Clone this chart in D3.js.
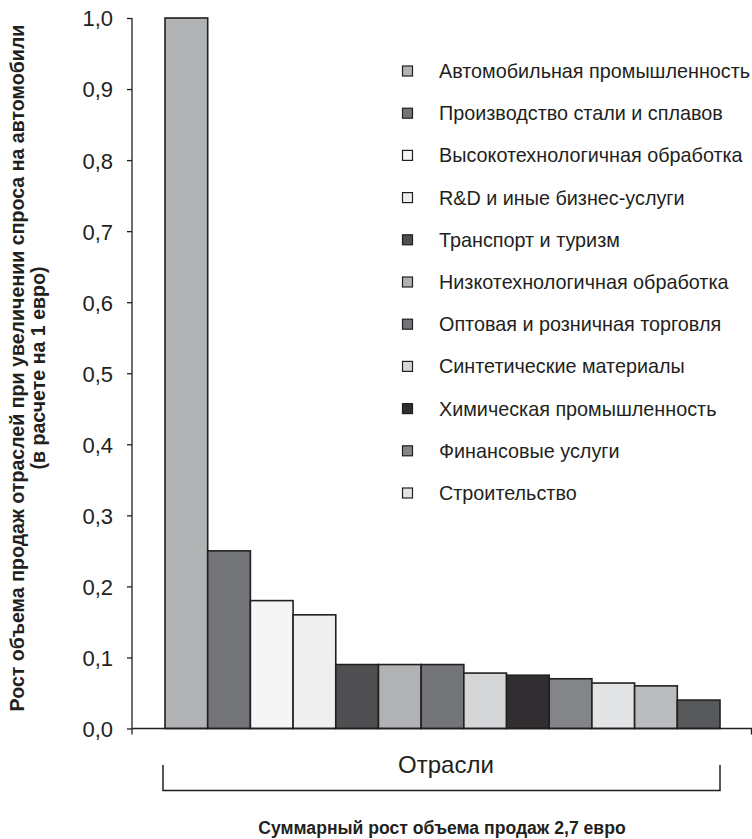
<!DOCTYPE html>
<html>
<head>
<meta charset="utf-8">
<script src="https://cdn.jsdelivr.net/npm/d3@7"></script>
<style>
  html, body { margin: 0; padding: 0; background: #fff; }
  svg { display: block; font-family: "Liberation Sans", Arial, sans-serif; }
</style>
</head>
<body>
<svg id="chart" width="752" height="839"></svg>
<script>
// Industries (legend order = bar order for the first 11 bars)
const categories = [
  "Автомобильная промышленность",
  "Производство стали и сплавов",
  "Высокотехнологичная обработка",
  "R&D и иные бизнес-услуги",
  "Транспорт и туризм",
  "Низкотехнологичная обработка",
  "Оптовая и розничная торговля",
  "Синтетические материалы",
  "Химическая промышленность",
  "Финансовые услуги",
  "Строительство",
  "",
  ""
];
// Sales growth per 1 euro of car demand
const values = [1.0, 0.25, 0.18, 0.16, 0.09, 0.09, 0.09, 0.078, 0.075, 0.07, 0.064, 0.06, 0.04];
const colors = ["#b2b3b5", "#737478", "#f5f5f5", "#eeefee", "#4f4f52", "#b0b2b4", "#737478",
                "#d5d6d8", "#302e30", "#848588", "#e3e4e6", "#bbbcbe", "#58595b"];
const yTicks = [0, 0.1, 0.2, 0.3, 0.4, 0.5, 0.6, 0.7, 0.8, 0.9, 1.0];
const legendCount = 11;

const ink = "#231f20";
const svg = d3.select("#chart");

const y = d3.scaleLinear().domain([0, 1]).range([728.5, 18]);
const x = d3.scaleBand().domain(d3.range(values.length)).range([165, 720]).padding(0);
const axisX = 132;

// bars
svg.append("g").selectAll("rect")
  .data(values)
  .join("rect")
  .attr("x", (d, i) => x(i))
  .attr("y", d => y(d))
  .attr("width", x.bandwidth())
  .attr("height", d => y(0) - y(d))
  .attr("fill", (d, i) => colors[i])
  .attr("stroke", ink)
  .attr("stroke-width", 1.6);

// y axis
const yAxis = d3.axisLeft(y)
  .tickValues(yTicks)
  .tickSize(5)
  .tickPadding(14)
  .tickFormat(d => d3.format(".1f")(d).replace(".", ","));
const gy = svg.append("g").attr("transform", `translate(${axisX},0)`).call(yAxis);
gy.select(".domain").remove();
gy.selectAll(".tick line").attr("stroke", ink).attr("stroke-width", 1.3);
gy.selectAll(".tick text").attr("fill", ink).style("font-size", "22px")
  .attr("dy", "0.36em");
svg.append("line")
  .attr("x1", axisX).attr("x2", axisX)
  .attr("y1", y(1)).attr("y2", y(0) + 6)
  .attr("stroke", ink).attr("stroke-width", 1.3);

// x baseline
svg.append("path")
  .attr("d", `M${axisX},${y(0)}H751.5V${y(0) + 6}`)
  .attr("fill", "none").attr("stroke", ink).attr("stroke-width", 1.3);

// bracket under the industries
svg.append("path")
  .attr("d", `M${x(0) - 2},765V790.5H${x(values.length - 1) + x.bandwidth()}V765`)
  .attr("fill", "none").attr("stroke", ink).attr("stroke-width", 1.5);
svg.append("text")
  .attr("x", 446).attr("y", 773)
  .attr("text-anchor", "middle")
  .attr("fill", ink).style("font-size", "24px")
  .text("Отрасли");
svg.append("text")
  .attr("x", 442).attr("y", 834)
  .attr("text-anchor", "middle")
  .attr("fill", ink).style("font-size", "17.6px").style("font-weight", "bold")
  .text("Суммарный рост объема продаж 2,7 евро");

// y title
const yt = svg.append("text")
  .attr("transform", "translate(0,368) rotate(-90)")
  .attr("text-anchor", "middle")
  .attr("fill", ink).style("font-size", "19.6px").style("font-weight", "bold");
yt.append("tspan").attr("x", 0).attr("y", 24).text("Рост объема продаж отраслей при увеличении спроса на автомобили");
yt.append("tspan").attr("x", 0).attr("y", 45).text("(в расчете на 1 евро)");

// legend
const legend = svg.append("g").selectAll("g")
  .data(d3.range(legendCount))
  .join("g")
  .attr("transform", i => `translate(402,${71 + i * 42.2})`);
legend.append("rect")
  .attr("x", 0.5).attr("y", -5).attr("width", 10).attr("height", 10)
  .attr("fill", i => colors[i])
  .attr("stroke", ink).attr("stroke-width", 1.2);
legend.append("text")
  .attr("x", 37).attr("y", 0).attr("dy", "0.35em")
  .attr("fill", ink).style("font-size", "19.8px")
  .text(i => categories[i]);
</script>
</body>
</html>
